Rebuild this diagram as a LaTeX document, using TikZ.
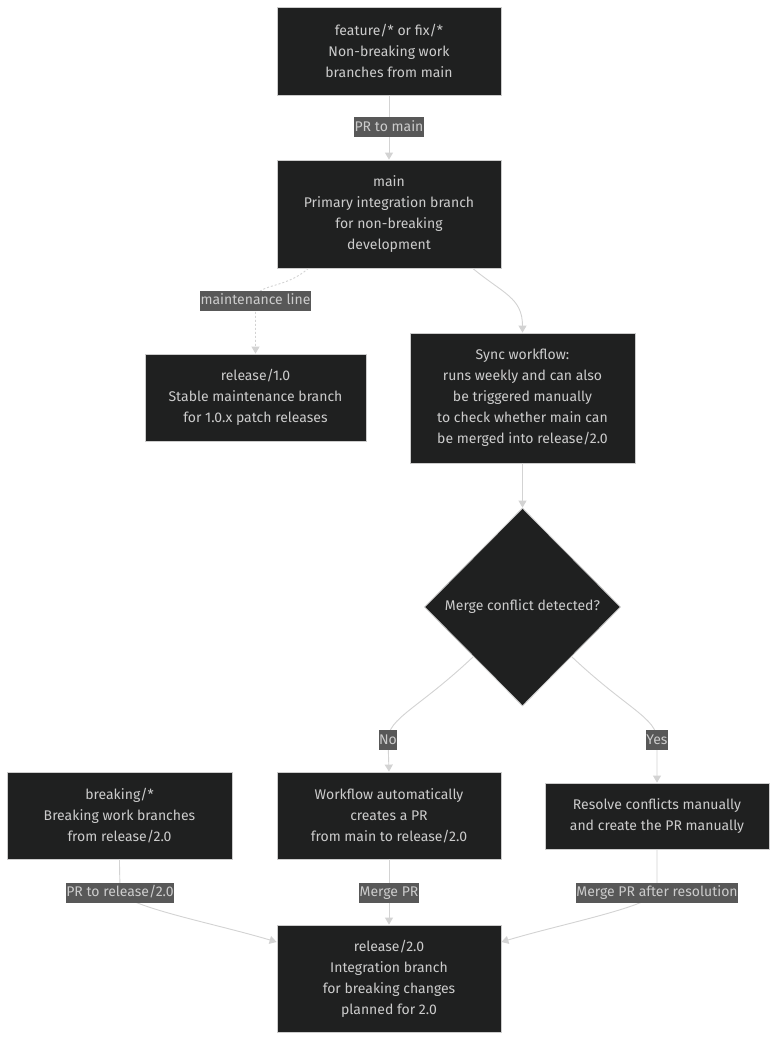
\documentclass[tikz,border=0pt]{standalone}
\usepackage{fontspec}
\setmainfont{Fira Sans}
\usetikzlibrary{shapes.geometric,arrows.meta}
\definecolor{nodefill}{HTML}{1F2020}
\definecolor{nodeline}{HTML}{CCCCCC}
\definecolor{txt}{HTML}{CCCCCC}
\definecolor{edge}{HTML}{D3D3D3}
\definecolor{labfill}{HTML}{585858}
\tikzset{
  box/.style={draw=nodeline, fill=nodefill, line width=0.8pt, text=txt, align=center,
    inner sep=0pt, font=\fontsize{14}{21}\selectfont},
  dia/.style={diamond, draw=nodeline, fill=nodefill, line width=0.8pt, text=txt,
    inner sep=0pt, font=\fontsize{14}{21}\selectfont},
  lab/.style={fill=labfill, text=txt, inner xsep=0.5pt, inner ysep=0pt,
    text height=14pt, text depth=6pt, font=\fontsize{14}{16}\selectfont},
  conn/.style={draw=edge, line width=0.9pt, -{Triangle[length=7pt,width=8pt]}},
  dotconn/.style={conn, dash pattern=on 2pt off 2pt},
}
\begin{document}
\begin{tikzpicture}[x=1pt,y=-1pt]
\useasboundingbox[fill=white] (0,0) rectangle (784,1052);
% nodes
\node[box, minimum width=224pt, minimum height=88pt] (A) at (389,51)
  {feature/* or fix/*\\Non-breaking work\\branches from main};
\node[box, minimum width=224pt, minimum height=108pt] (B) at (389,214)
  {main\\Primary integration branch\\for non-breaking\\development};
\node[box, minimum width=221pt, minimum height=87pt] (C) at (255.5,397.5)
  {release/1.0\\Stable maintenance branch\\for 1.0.x patch releases};
\node[box, minimum width=225pt, minimum height=130pt] (D) at (522.5,398)
  {Sync workflow:\\runs weekly and can also\\be triggered manually\\to check whether main can\\be merged into release/2.0};
\node[dia, minimum width=196pt, minimum height=198pt] (E) at (522.5,607)
  {\makebox[0pt]{Merge conflict detected?}};
\node[box, minimum width=225pt, minimum height=87pt] (F) at (119.5,815.5)
  {breaking/*\\Breaking work branches\\from release/2.0};
\node[box, minimum width=224pt, minimum height=87pt] (G) at (389,815.5)
  {Workflow automatically\\creates a PR\\from main to release/2.0};
\node[box, minimum width=224pt, minimum height=66pt] (H) at (657,816)
  {Resolve conflicts manually\\and create the PR manually};
\node[box, minimum width=224pt, minimum height=107pt] (I) at (389,978.5)
  {release/2.0\\Integration branch\\for breaking changes\\planned for 2.0};
% label positions
\coordinate (l1) at (389,127);
\coordinate (l2) at (255.5,300.5);
\coordinate (l3) at (388,740);
\coordinate (l4) at (657,740);
\coordinate (l5) at (120,892.5);
\coordinate (l6) at (389,892.5);
\coordinate (l7) at (657,892.5);
% connectors
\draw[conn] (A) -- (B);
\draw[dotconn] (B.214) .. controls +(-25,22) and +(0,-18) .. (l2) -- (C.north);
\draw[conn] (B.-33) .. controls +(30,25) and +(0,-35) .. (D.north);
\draw[conn] (D) -- (E);
\draw[conn] (E.south west) .. controls +(-55,52) and +(0,-22) .. (l3) -- (G.north);
\draw[conn] (E.south east) .. controls +(55,52) and +(0,-22) .. (l4) -- (H.north);
\draw[conn] (F.south) .. controls +(0,15) and +(0,-12) .. (l5) .. controls +(10,15) and +(-60,-18) .. (I.162);
\draw[conn] (G) -- (I);
\draw[conn] (H.south) .. controls +(0,15) and +(0,-12) .. (l7) .. controls +(-10,15) and +(60,-18) .. (I.18);
% labels
\node[lab] (t1) at (l1) {PR to main};
\node[lab] (t2) at (l2) {maintenance line};
\node[lab] (t3) at (l3) {No};
\node[lab] (t4) at (l4) {Yes};
\node[lab] (t5) at (l5) {PR to release/2.0};
\node[lab] (t6) at (l6) {Merge PR};
\node[lab] (t7) at (l7) {Merge PR after resolution};
\end{tikzpicture}
\end{document}
